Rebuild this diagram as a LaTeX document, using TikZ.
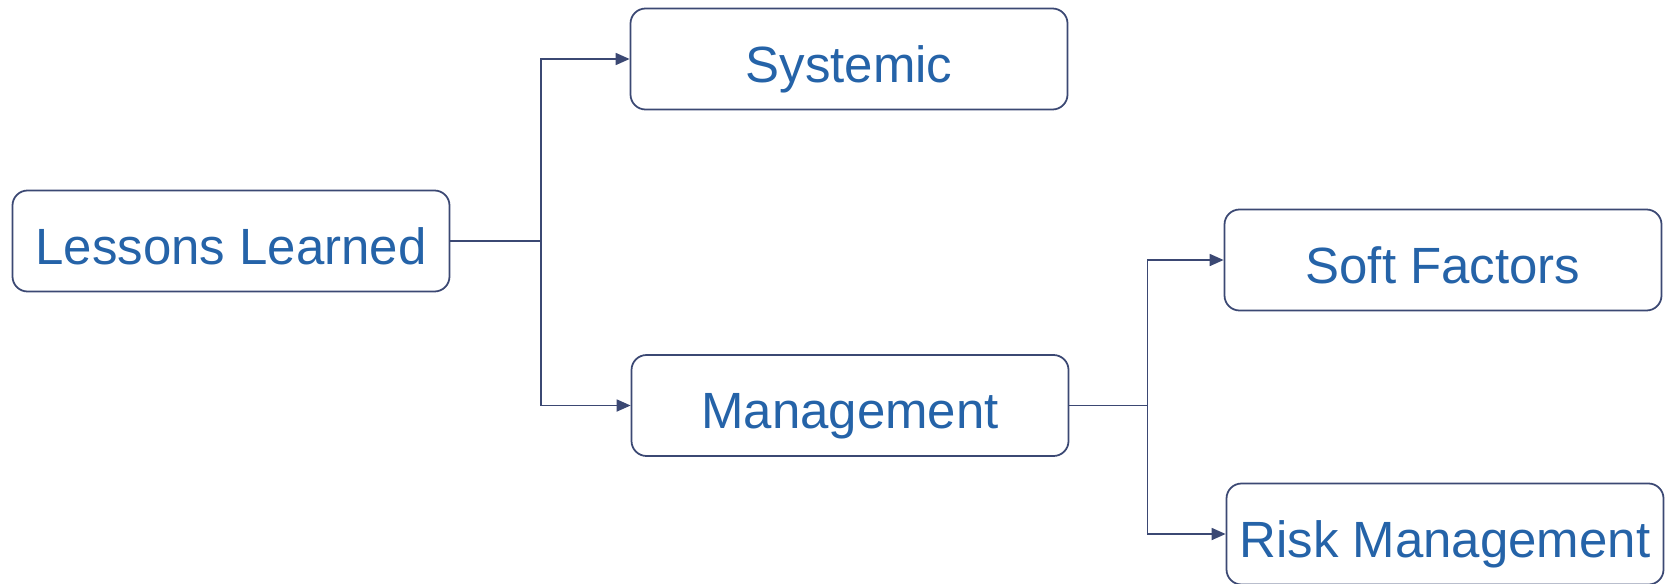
\documentclass[tikz,border=0pt]{standalone}
\usepackage{fontspec}
\setmainfont{Liberation Sans}
\usetikzlibrary{arrows.meta}
\definecolor{boxline}{RGB}{59,72,115}
\definecolor{boxtext}{RGB}{37,99,168}
\begin{document}
\begin{tikzpicture}[>={Triangle[length=0.28cm,width=0.24cm]},
    stage/.style={draw=boxline, line width=1pt, rounded corners=0.3cm, fill=white, minimum width=8.74cm, minimum height=2.02cm, inner sep=0.1cm, text height=1.17cm, text depth=0.25cm, text=boxtext, font=\fontsize{29}{34}\selectfont},
    link/.style={draw=boxline, line width=1pt}]
    \useasboundingbox (0,0) rectangle (33.38,-11.66);
    \node[stage] (lessons) at (4.62,-4.82) {Lessons Learned};
    \node[stage] (systemic) at (16.98,-1.18) {Systemic};
    \node[stage] (mgmt) at (17.0,-8.11) {Management};
    \node[stage] (soft) at (28.86,-5.2) {Soft Factors};
    \node[stage] (risk) at (28.9,-10.68) {Risk Management};
    \coordinate (split1) at (10.82,-4.82);
    \coordinate (split2) at (22.95,-8.11);
    \draw[link] (lessons.east) -- (split1);
    \draw[link, ->] (split1) |- (systemic.west);
    \draw[link, ->] (split1) |- (mgmt.west);
    \draw[link] (mgmt.east) -- (split2);
    \draw[link, ->] (split2) |- (soft.west);
    \draw[link, ->] (split2) |- (risk.west);
\end{tikzpicture}
\end{document}
